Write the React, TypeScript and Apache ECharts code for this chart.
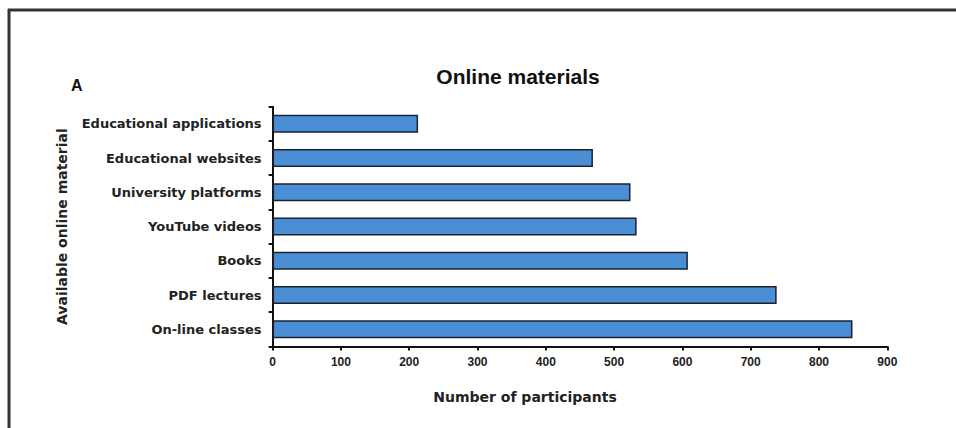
import React, { useEffect, useRef } from "react";
import * as echarts from "echarts";

const categories = [
  "Educational applications",
  "Educational websites",
  "University platforms",
  "YouTube videos",
  "Books",
  "PDF lectures",
  "On-line classes",
];
const participants = [213, 469, 524, 533, 608, 738, 849];
const xTicks = { min: 0, max: 900, interval: 100 };
const xAxisName = "Number of participants";
const yAxisName = "Available online material";
const chartTitle = "Online materials";
const panelLabel = "A";

export default function App() {
  const ref = useRef<HTMLDivElement>(null);
  useEffect(() => {
    if (!ref.current) return;
    const chart = echarts.init(ref.current, null, { renderer: "svg" });
    const font = "'Liberation Sans', Arial, sans-serif";
    const wide = "'DejaVu Sans', Verdana, sans-serif";
    chart.setOption({
      animation: false,
      backgroundColor: "#ffffff",
      title: {
        text: chartTitle,
        left: 513,
        top: 61,
        textAlign: "center",
        textStyle: { fontFamily: font, fontSize: 21, fontWeight: "bold", color: "#111" },
      },
      graphic: [
        { type: "line", shape: { x1: 8, y1: 10, x2: 956, y2: 10 }, style: { stroke: "#333", lineWidth: 3 } },
        { type: "line", shape: { x1: 9, y1: 9, x2: 9, y2: 428 }, style: { stroke: "#333", lineWidth: 3 } },
        {
          type: "text",
          left: 71,
          top: 77,
          style: { text: panelLabel, fontFamily: font, fontSize: 16, fontWeight: "bold", fill: "#111" },
        },
        {
          type: "text",
          x: 525,
          y: 397,
          style: {
            text: xAxisName,
            fontFamily: wide,
            fontSize: 14,
            fontWeight: "bold",
            fill: "#222",
            align: "center",
            verticalAlign: "middle",
          },
        },
      ],
      grid: { left: 272.6, right: 68.7, top: 106.7, bottom: 81.5, containLabel: false },
      xAxis: {
        type: "value",
        min: xTicks.min,
        max: xTicks.max,
        interval: xTicks.interval,
        axisLine: { show: true, lineStyle: { color: "#111", width: 2 } },
        axisTick: { show: true, length: 4, lineStyle: { color: "#111", width: 2 } },
        axisLabel: { fontFamily: font, fontSize: 12, fontWeight: "bold", color: "#222", margin: 9 },
        splitLine: { show: false },
      },
      yAxis: {
        type: "category",
        data: categories,
        inverse: true,
        name: yAxisName,
        nameLocation: "middle",
        nameGap: 204,
        nameTextStyle: { fontFamily: wide, fontSize: 14, fontWeight: "bold", color: "#222" },
        axisLine: { show: true, lineStyle: { color: "#111", width: 2 } },
        axisTick: { show: true, length: 4, lineStyle: { color: "#111", width: 2 } },
        axisLabel: { fontFamily: wide, fontSize: 13, fontWeight: "bold", color: "#222", margin: 11 },
      },
      series: [
        {
          type: "bar",
          data: participants,
          barWidth: 18,
          itemStyle: { color: "#4a8fd6", borderColor: "#1c2230", borderWidth: 1.5 },
        },
      ],
    });
    return () => chart.dispose();
  }, []);
  return (
    <div
      ref={ref}
      style={{ position: "fixed", left: 0, top: 0, width: 956, height: 428, background: "#fff" }}
    />
  );
}
